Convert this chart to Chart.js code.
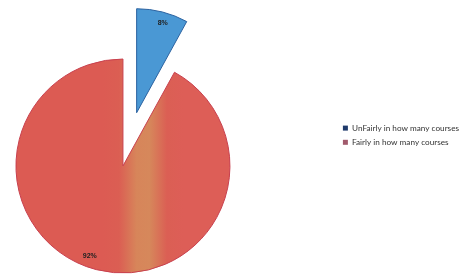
<!DOCTYPE html>
<html>
<head>
<meta charset="utf-8">
<script src="https://cdn.jsdelivr.net/npm/chart.js@4.4.1/dist/chart.umd.min.js"></script>
<style>
  html, body { margin: 0; padding: 0; background: #fff; overflow: hidden; }
  #wrap { position: absolute; left: -94px; top: 0; width: 568px; height: 275px; }
</style>
</head>
<body>
<div id="wrap"><canvas id="graficoCursos"></canvas></div>
<script>
//Datos
const categorias = ['UnFairly in how many courses', 'Fairly in how many courses'];
const valores = [8, 92];
const etiquetas = ['8%', '92%'];
const coloresLeyenda = ['#1f3a6b', '#a15a6c'];

//Color de las porciones (la roja lleva la franja clara de la foto)
function colorPorcion(ctx) {
    if (ctx.dataIndex === 0) return '#4a98d4';
    const chart = ctx.chart;
    const area = chart.chartArea;
    if (!area) return '#dc5b52';
    const cx = (area.left + area.right) / 2 + 20;
    const g = chart.ctx.createLinearGradient(cx - 40, 0, cx + 40, 0);
    g.addColorStop(0, '#dc5b53');
    g.addColorStop(0.2, '#db5e53');
    g.addColorStop(0.42, '#d7855a');
    g.addColorStop(0.58, '#d6885b');
    g.addColorStop(0.8, '#db5f54');
    g.addColorStop(1, '#dd5e57');
    return g;
}

//La porcion separada no debe crecer ni estrecharse al desplazarse
const radioSeparada = {
    id: 'radioSeparada',
    afterDatasetUpdate(chart, args) {
        const meta = chart.getDatasetMeta(args.index);
        meta.data.forEach(arc => {
            const off = (arc.options.offset || 0) / 4;
            if (!off) return;
            const fix = 1 - Math.sin(Math.min(Math.PI, arc.circumference));
            const r0 = off * fix;
            const radio = 104;
            arc.outerRadius = radio - r0;
            const beta = (r0 / Math.PI) / radio / 2;
            arc.startAngle -= beta;
            arc.endAngle += beta;
        });
    }
};

//Porcentajes sobre las porciones
const porcentajes = {
    id: 'porcentajes',
    afterDatasetsDraw(chart) {
        const meta = chart.getDatasetMeta(0);
        const c = chart.ctx;
        c.save();
        c.font = 'bold 7px "Liberation Sans", Arial, sans-serif';
        c.fillStyle = '#222';
        c.textAlign = 'center';
        c.textBaseline = 'middle';
        meta.data.forEach((arc, i) => {
            const p = arc.getProps(['x', 'y', 'startAngle', 'endAngle']);
            const mid = (p.startAngle + p.endAngle) / 2 + (i === 1 ? 0.1 : 0.02);
            const off = (arc.options.offset || 0) / 4;
            const r = (off ? 104 : 107) * 0.9;
            c.fillText(etiquetas[i], p.x + Math.cos(mid) * (r + off), p.y + Math.sin(mid) * (r + off));
        });
        c.restore();
    }
};

const dataCursos = {
    labels: categorias,
    datasets: [{
        data: valores,
        backgroundColor: colorPorcion,
        borderColor: ['#2b62a0', '#c8404e'],
        borderWidth: 1,
        offset: [220, 0],
        radius: 107
    }]
};

const configCursos = {
    type: 'pie',
    data: dataCursos,
    options: {
        responsive: true,
        maintainAspectRatio: false,
        animation: false,
        cutout: '0%',
        events: [],
        layout: {
            padding: { left: 3, right: 5, top: 57, bottom: 0 }
        },
        plugins: {
            tooltip: { enabled: false },
            legend: {
                position: 'right',
                align: 'start',
                title: { display: true, text: '', font: { size: 1 }, padding: { top: 59.8, bottom: 0 } },
                labels: {
                    boxWidth: 5, boxHeight: 5, padding: 6, color: '#333',
                    font: { family: 'Lato', size: 8.2 },
                    generateLabels(chart) {
                        const items = Chart.overrides.pie.plugins.legend.labels.generateLabels(chart);
                        return items.map((it, i) => Object.assign(it, {
                            fillStyle: coloresLeyenda[i], strokeStyle: coloresLeyenda[i], lineWidth: 0
                        }));
                    }
                }
            }
        }
    },
    plugins: [radioSeparada, porcentajes]
};

new Chart(document.querySelector('#graficoCursos'), configCursos);
</script>
</body>
</html>
